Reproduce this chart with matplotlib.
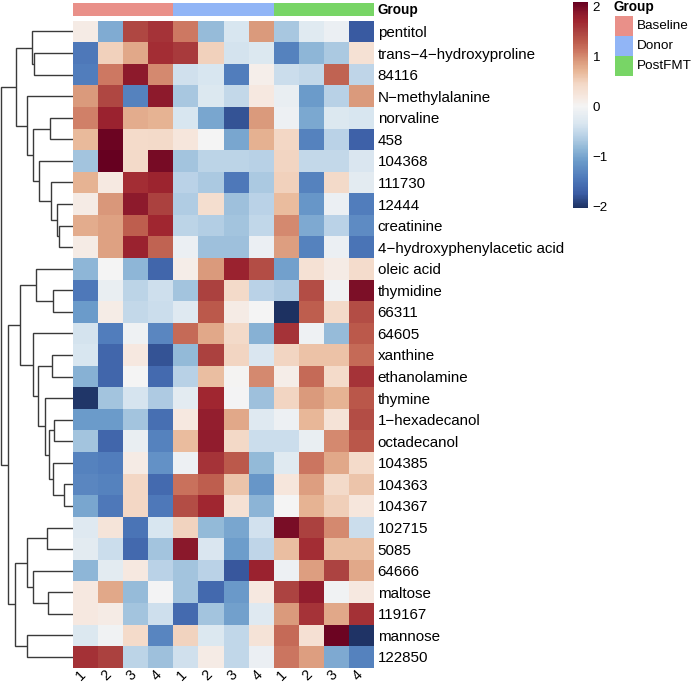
import matplotlib

matplotlib.use("Agg")
import matplotlib.pyplot as plt
import numpy as np
from matplotlib.colors import LinearSegmentedColormap, ListedColormap
from matplotlib.patches import Rectangle
from matplotlib.transforms import offset_copy

plt.rcParams["font.family"] = ["Liberation Sans", "DejaVu Sans"]

W_PX, H_PX = 692, 683

metabolites = [
    "pentitol", "trans\u22124\u2212hydroxyproline", "84116", "N\u2212methylalanine",
    "norvaline", "458", "104368", "111730", "12444", "creatinine",
    "4\u2212hydroxyphenylacetic acid", "oleic acid", "thymidine", "66311",
    "64605", "xanthine", "ethanolamine", "thymine", "1\u2212hexadecanol",
    "octadecanol", "104385", "104363", "104367", "102715", "5085", "64666",
    "maltose", "119167", "mannose", "122850",
]
group_names = ["Baseline", "Donor", "PostFMT"]
group_colors = ["#E99089", "#91B5F6", "#78D566"]
sample_groups = [0, 0, 0, 0, 1, 1, 1, 1, 2, 2, 2, 2]
sample_labels = ["1", "2", "3", "4"] * 3

# scaled abundance, one row per metabolite, columns B1-B4, D1-D4, P1-P4
z_values = [
    [0.15, -0.95, 1.45, 1.60, 1.10, -0.80, -0.35, 0.90, -0.70, -0.25, -0.12, -1.75],
    [-1.45, 0.50, 0.80, 1.65, 1.55, 0.50, -0.38, -0.30, -1.35, -0.85, -0.68, 0.30],
    [-1.40, 1.10, 1.85, 1.00, -0.42, -0.35, -1.40, 0.10, -0.45, -0.52, 1.25, -0.55],
    [0.90, 1.45, -1.35, 1.85, -0.70, -0.30, -0.52, 0.20, -0.15, -1.10, -0.60, 0.90],
    [1.05, 1.75, 0.78, 0.72, -0.35, -1.00, -1.80, 0.90, -0.10, -0.98, -0.30, -0.35],
    [0.68, 2.05, 0.40, 0.42, 0.22, 0.00, -1.00, 0.75, 0.45, -1.35, -0.58, -1.70],
    [-0.72, 2.08, 0.42, 1.98, -0.72, -0.57, -0.57, -0.60, 0.47, -0.52, -0.52, -0.33],
    [0.73, 0.18, 1.65, 1.72, -0.58, -0.68, -1.45, -0.68, 0.50, -1.35, 0.42, -0.22],
    [0.15, 0.92, 1.85, 1.50, -0.65, 0.35, -0.75, -0.58, 0.66, -1.15, -0.12, -1.40],
    [0.77, 0.85, 1.28, 1.70, -0.57, -0.63, -0.72, -0.53, 1.00, -0.97, -0.58, -1.25],
    [0.15, 0.85, 1.75, 1.25, -0.12, -0.75, -0.75, -0.12, 0.87, -1.35, -0.12, -1.50],
    [-0.85, 0.00, -0.85, -1.65, 0.12, 0.90, 1.75, 1.40, -1.05, 0.30, 0.15, 0.38],
    [-1.45, -0.15, -0.57, -0.43, -0.72, 1.50, 0.42, -0.58, -0.66, 1.40, -0.05, 1.95],
    [-1.10, 0.13, -0.52, -0.45, -0.28, 1.30, 0.15, 0.00, -2.05, 1.28, 0.42, 1.40],
    [-0.38, -1.40, -0.08, -1.30, 1.20, 0.80, 0.42, -0.90, 1.60, -0.08, -0.80, 1.30],
    [-0.35, -1.65, 0.20, -1.80, -0.82, 1.50, 0.47, -0.33, 0.47, 0.62, 0.62, 1.20],
    [-0.90, -1.65, 0.00, -1.60, -0.60, 0.65, 0.02, 1.00, 0.12, 1.20, 0.40, 1.60],
    [-2.00, -0.72, -0.37, -0.66, -0.23, 1.70, -0.02, -0.75, 0.47, 0.90, 0.73, 1.32],
    [-1.10, -1.10, -0.72, -1.55, 0.20, 1.80, 0.80, -0.28, -0.10, 0.70, 0.27, 1.40],
    [-0.72, -1.65, -0.15, -1.35, 0.66, 1.82, 0.43, -0.45, -0.45, -0.15, 1.00, 1.32],
    [-1.35, -1.40, 0.15, -1.20, -0.10, 1.60, 1.30, -0.82, -0.25, 1.12, 0.80, 0.40],
    [-1.30, -1.35, 0.46, -1.60, 1.15, 1.28, 0.60, -1.15, 0.22, 0.87, 0.42, 0.60],
    [-1.00, -1.45, 0.45, -1.45, 1.40, 1.70, 0.30, -0.87, 0.00, 0.73, 0.52, 0.22],
    [-0.27, 0.26, -1.50, -0.35, 0.48, -0.82, -1.00, -0.40, 1.97, 1.50, 1.00, -0.45],
    [-0.22, -0.45, -1.62, -0.73, 1.88, -0.33, -1.08, -0.54, 0.65, 1.65, 0.65, 0.65],
    [-0.85, -0.22, 0.20, -0.58, -0.72, -0.58, -1.78, 1.75, -0.10, 0.87, 1.48, 0.80],
    [0.20, 0.80, -0.80, -0.02, -0.72, -1.62, -1.12, 0.20, 1.48, 1.83, -0.05, 0.20],
    [0.20, 0.15, -0.72, -0.43, -1.60, -0.72, -1.05, -0.27, 0.90, 1.60, 0.80, 1.62],
    [-0.30, -0.05, 0.40, -1.32, 0.48, -0.30, -0.53, 0.27, 1.20, 0.32, 2.05, -2.02],
    [1.62, 1.50, -0.57, -0.75, -0.42, 0.15, -0.53, -0.12, 1.12, 0.87, -0.97, -1.35],
]

# row clustering: (left, right, height); ids >= 30 point to earlier merges
row_merges = [
    (21, 22, 26), (9, 10, 42), (8, 31, 48), (18, 19, 55), (12, 13, 60),
    (20, 30, 60), (15, 16, 63), (7, 32, 66), (4, 5, 68), (33, 35, 70),
    (26, 27, 73), (23, 24, 78), (17, 39, 83), (6, 37, 100), (36, 42, 105),
    (11, 34, 111), (1, 2, 116), (38, 43, 118), (14, 44, 118), (25, 40, 118),
    (0, 46, 123), (3, 47, 138), (41, 49, 138), (28, 29, 138), (45, 48, 158),
    (50, 51, 170), (52, 53, 173), (54, 56, 193), (55, 57, 215),
]
colorbar_ticks = [-2, -1, 0, 1, 2]
VMIN, VMAX = -2.04, 2.09

# soft blue-white-red ramp (anchor value, colour)
ramp_stops = [-2.04, -1.75, -1.45, -1.1, -0.85, -0.6, -0.35, 0.0,
              0.2, 0.45, 0.7, 0.9, 1.1, 1.3, 1.5, 1.7, 1.85, 2.09]
ramp_colors = ["#1d3161", "#3b5ca4", "#4e79ba", "#6b9bca", "#8fb7d7", "#b8d1e6",
               "#d9e6f0", "#f4f4f4", "#f6e8df", "#f3d8c6", "#e8b797", "#db9b7d",
               "#cd7862", "#bc5b4c", "#ab4240", "#a02630", "#8f1b2d", "#660020"]


def px_axes(fig, x0, y0, x1, y1):
    return fig.add_axes([x0 / W_PX, 1 - y1 / H_PX, (x1 - x0) / W_PX, (y1 - y0) / H_PX])


def draw_dendrogram(ax, merges, n_leaves):
    pos = {i: (i + 0.5, 0.0) for i in range(n_leaves)}
    for k, (a, b, h) in enumerate(merges):
        ya, ha = pos[a]
        yb, hb = pos[b]
        ax.plot([ha, h, h, hb], [ya, ya, yb, yb], color="#3a3a3a", lw=1.0,
                solid_capstyle="butt", solid_joinstyle="miter")
        pos[n_leaves + k] = ((ya + yb) / 2, h)
    ax.set_xlim(218, 0)
    ax.set_ylim(n_leaves, 0)
    ax.axis("off")


cmap = LinearSegmentedColormap.from_list(
    "soft_rdbu",
    [((v - VMIN) / (VMAX - VMIN), c) for v, c in zip(ramp_stops, ramp_colors)],
    N=256,
)

fig = plt.figure(figsize=(W_PX / 100, H_PX / 100), dpi=100)

data = np.array(z_values)
n_rows, n_cols = data.shape
hx0, hy0, hx1, hy1 = 72.7, 20.7, 374.3, 667.7

ax = px_axes(fig, hx0, hy0, hx1, hy1)
mesh = ax.pcolormesh(data, cmap=cmap, vmin=VMIN, vmax=VMAX)
ax.set_xlim(0, n_cols)
ax.set_ylim(n_rows, 0)
ax.yaxis.tick_right()
ax.set_yticks(np.arange(n_rows) + 0.5, metabolites, fontsize=10.9)
ax.set_xticks([])
ax.tick_params(length=0, pad=2.4)
for spine in ax.spines.values():
    spine.set_visible(False)

# rotated sample labels just under the heatmap
label_trans = offset_copy(ax.get_xaxis_transform(), fig=fig, x=-4, y=-8.0,
                          units="dots")
for j, lab in enumerate(sample_labels):
    ax.text(j + 0.5, 0, lab, transform=label_trans, rotation=45, fontsize=10.3,
            ha="center", va="center")

ann = px_axes(fig, hx0, 2.7, hx1, 16.0)
ann.pcolormesh(np.array([sample_groups]), cmap=ListedColormap(group_colors),
               vmin=-0.5, vmax=len(group_colors) - 0.5)
ann.set_xlim(0, n_cols)
ann.axis("off")
fig.text(377.5 / W_PX, 1 - 9.6 / H_PX, "Group", fontsize=9.8, fontweight="bold",
         ha="left", va="center")

dax = px_axes(fig, 0, hy0, hx0, hy1)
draw_dendrogram(dax, row_merges, n_rows)

cax = px_axes(fig, 573.3, 1.7, 588.3, 208.3)
cbar = fig.colorbar(mesh, cax=cax, ticks=colorbar_ticks)
cbar.outline.set_visible(False)
cbar.ax.set_yticklabels([f"{t}".replace("-", "\u2212") for t in colorbar_ticks])
cbar.ax.tick_params(length=0, pad=3.2, labelsize=9.6)

fig.text(613.3 / W_PX, 1 - 7.0 / H_PX, "Group", fontsize=9.8, fontweight="bold",
         ha="left", va="center")
for i, (name, color) in enumerate(zip(group_names, group_colors)):
    y_top = 16.0 + 20.0 * i
    fig.patches.append(Rectangle((615.0 / W_PX, 1 - (y_top + 20.0) / H_PX),
                                 18.3 / W_PX, 20.0 / H_PX, facecolor=color,
                                 edgecolor="none", transform=fig.transFigure))
    fig.text(636.7 / W_PX, 1 - (y_top + 10.0) / H_PX, name, fontsize=9.7,
             ha="left", va="center")

fig.savefig("out.png", dpi=100)
